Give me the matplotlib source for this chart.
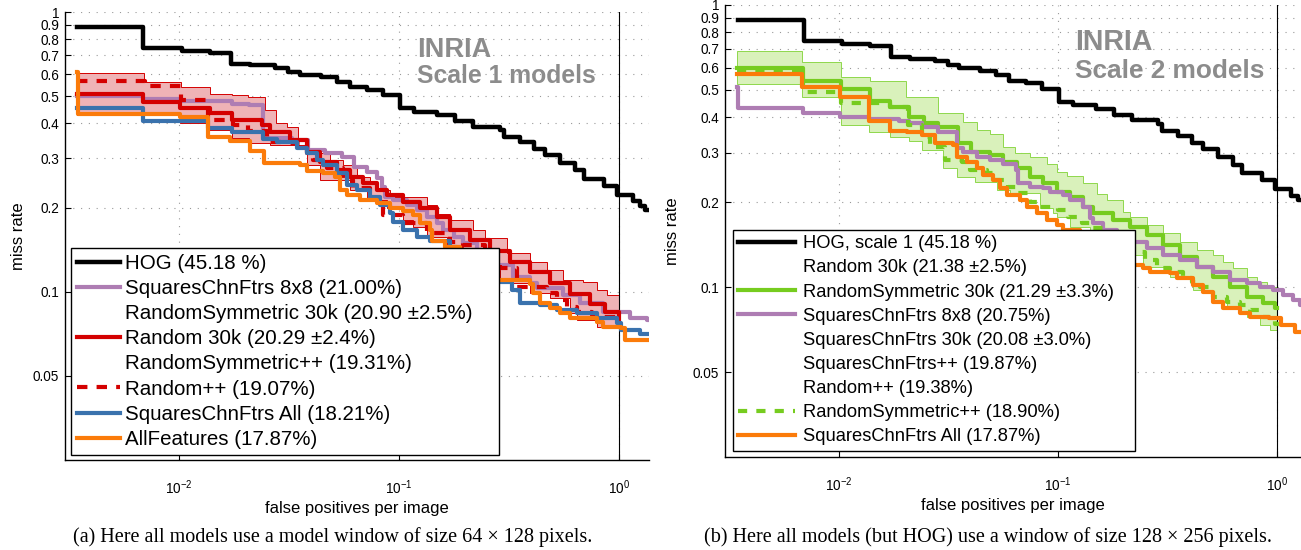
import numpy as np
import matplotlib
matplotlib.use("Agg")
import matplotlib.pyplot as plt
from matplotlib.lines import Line2D

plt.rcParams['font.family'] = ['Liberation Sans', 'DejaVu Sans']
plt.rcParams['mathtext.fontset'] = 'custom'
plt.rcParams['mathtext.rm'] = 'Liberation Sans'
plt.rcParams['mathtext.it'] = 'Liberation Sans:italic'

# ---- data: (false positives per image, miss rate), step curves ----
hog_fppi = [0.00345, 0.00692, 0.01035, 0.01387, 0.01726, 0.0211, 0.02735, 0.0313, 0.03548, 0.04426,
            0.05236, 0.05998, 0.0716, 0.0846, 0.1014, 0.1173, 0.1488, 0.1795, 0.2168, 0.2873, 0.2996,
            0.3541, 0.41, 0.46, 0.538, 0.629, 0.6916, 0.852, 0.9763, 1.154, 1.242, 1.308, 1.36]
hog_mr = [0.883, 0.745, 0.726, 0.714, 0.655, 0.645, 0.634, 0.613, 0.596, 0.584, 0.563, 0.540, 0.527,
          0.505, 0.453, 0.441, 0.429, 0.408, 0.390, 0.379, 0.358, 0.343, 0.325, 0.308, 0.289, 0.272,
          0.253, 0.239, 0.222, 0.211, 0.203, 0.196, 0.196]

# scale 1 models
s1_sq8_fppi = [0.00345, 0.00689, 0.01024, 0.01746, 0.02085, 0.02427, 0.0326, 0.0386, 0.0461, 0.055,
               0.0625, 0.0713, 0.0792, 0.0834, 0.0864, 0.0942, 0.1084, 0.1202, 0.1335, 0.1483, 0.1589,
               0.177, 0.196, 0.2253, 0.2777, 0.3303, 0.3935, 0.4218, 0.557, 0.663, 0.846, 1.118, 1.33, 1.36]
s1_sq8_mr = [0.501, 0.490, 0.481, 0.471, 0.4656, 0.356, 0.3487, 0.3212, 0.3126, 0.304, 0.280, 0.2686,
             0.2543, 0.2373, 0.2186, 0.2129, 0.2041, 0.1959, 0.1854, 0.1755, 0.1662, 0.157, 0.1489,
             0.139, 0.1245, 0.113, 0.1071, 0.1028, 0.0972, 0.0908, 0.0847, 0.0802, 0.0791, 0.0791]

s1_rnd_fppi = [0.00345, 0.00689, 0.01014, 0.0139, 0.01754, 0.024, 0.026, 0.032, 0.0381, 0.0438, 0.0521,
               0.0599, 0.0689, 0.0792, 0.0879, 0.1046, 0.1245, 0.1483, 0.1704, 0.210, 0.2588, 0.3186,
               0.3935, 0.4842, 0.597, 0.736, 0.861, 0.997, 1.0]
s1_rnd_mr = [0.5096, 0.476, 0.455, 0.4346, 0.4113, 0.3948, 0.3736, 0.3487, 0.3167, 0.2917, 0.2724,
             0.2577, 0.2441, 0.231, 0.2218, 0.2098, 0.1987, 0.1854, 0.1662, 0.153, 0.1397, 0.128,
             0.1175, 0.1073, 0.0985, 0.0903, 0.0845, 0.0791, 0.0791]

s1_rnd_hi_fppi = [0.00345, 0.00694, 0.01028, 0.01387, 0.01746, 0.02064, 0.02466, 0.02767, 0.0309, 0.0349,
                  0.0381, 0.0423, 0.0486, 0.0559, 0.0643, 0.0738, 0.0792, 0.0908, 0.1335, 0.1483, 0.1704,
                  0.2177, 0.2457, 0.3083, 0.3935, 0.468, 0.557, 0.6863, 0.7895, 0.877, 1.0]
s1_rnd_hi_mr = [0.6073, 0.5639, 0.5411, 0.5096, 0.5055, 0.497, 0.4467, 0.4004, 0.389, 0.3347, 0.3257,
                0.3126, 0.2958, 0.2838, 0.2577, 0.2473, 0.231, 0.2186, 0.2041, 0.1895, 0.1804, 0.1662,
                0.1551, 0.1371, 0.128, 0.1195, 0.110, 0.1085, 0.1013, 0.0972, 0.0972]
s1_rnd_lo_fppi = [0.00345, 0.01014, 0.01365, 0.01746, 0.0209, 0.026, 0.0381, 0.0438, 0.0599, 0.0713,
                  0.0879, 0.1046, 0.1161, 0.1335, 0.1646, 0.196, 0.233, 0.2873, 0.3935, 0.4842, 0.597,
                  0.641, 0.7895, 1.0]
s1_rnd_lo_mr = [0.4286, 0.4004, 0.3789, 0.3537, 0.3394, 0.3347, 0.2838, 0.2508, 0.231, 0.2129, 0.1987,
                0.1804, 0.1707, 0.1572, 0.1448, 0.1297, 0.1195, 0.1071, 0.0988, 0.0948, 0.0836, 0.0791,
                0.0749, 0.0749]

s1_rndpp_fppi = [0.00345, 0.00703, 0.01028, 0.01358, 0.01764, 0.02064, 0.0251, 0.0327, 0.0381, 0.0408,
                 0.047, 0.0559, 0.062, 0.0738, 0.0849, 0.1046, 0.1335, 0.1704, 0.196, 0.2457, 0.2873,
                 0.342, 0.468, 0.52, 0.577, 0.641, 0.7493, 0.846, 1.0]
s1_rndpp_mr = [0.567, 0.5456, 0.485, 0.4113, 0.3948, 0.3757, 0.3438, 0.3394, 0.3126, 0.2958, 0.2769,
               0.2508, 0.2344, 0.216, 0.188, 0.176, 0.1622, 0.1509, 0.1468, 0.1297, 0.1212, 0.1041,
               0.0986, 0.0933, 0.0883, 0.0847, 0.0825, 0.0813, 0.0813]

s1_sqall_fppi = [0.00345, 0.00689, 0.01365, 0.01746, 0.02414, 0.0279, 0.0343, 0.0381, 0.0423, 0.0453,
                 0.0521, 0.0579, 0.0643, 0.0738, 0.082, 0.0908, 0.0941, 0.1045, 0.1202, 0.138, 0.1704,
                 0.1828, 0.196, 0.2175, 0.233, 0.2777, 0.325, 0.354, 0.4365, 0.52, 0.641, 0.7895, 0.973,
                 1.018, 1.24, 1.36]
s1_sqall_mr = [0.455, 0.408, 0.386, 0.374, 0.3515, 0.344, 0.326, 0.3126, 0.2958, 0.2838, 0.2651, 0.2406,
               0.231, 0.2186, 0.2041, 0.1907, 0.1779, 0.1662, 0.1572, 0.152, 0.1448, 0.139, 0.1333,
               0.1262, 0.1195, 0.1085, 0.1014, 0.0908, 0.0896, 0.0859, 0.0836, 0.0802, 0.077, 0.0729,
               0.0704, 0.0704]

s1_all_fppi = [0.00345, 0.00349, 0.01014, 0.01365, 0.01718, 0.0211, 0.0245, 0.0356, 0.0382, 0.0451,
               0.0512, 0.0540, 0.0580, 0.0665, 0.0793, 0.0908, 0.104, 0.1153, 0.124, 0.138, 0.141,
               0.1614, 0.189, 0.210, 0.233, 0.238, 0.3935, 0.4058, 0.4365, 0.4842, 0.538, 0.597,
               0.7925, 0.8433, 1.018, 1.062, 1.36]
s1_all_mr = [0.611, 0.432, 0.423, 0.358, 0.346, 0.319, 0.289, 0.284, 0.270, 0.265, 0.258, 0.231, 0.222,
             0.213, 0.207, 0.199, 0.195, 0.188, 0.1755, 0.166, 0.152, 0.145, 0.141, 0.132, 0.119, 0.110,
             0.107, 0.0986, 0.0908, 0.0871, 0.0836, 0.0802, 0.0780, 0.0749, 0.0741, 0.0671, 0.0671]

# scale 2 models
s2_rsym_fppi = [0.00342, 0.00685, 0.01024, 0.0139, 0.01715, 0.0208, 0.02436, 0.0283, 0.0349, 0.0399,
                0.0489, 0.0563, 0.0648, 0.0745, 0.0857, 0.0986, 0.1134, 0.1305, 0.145, 0.1789, 0.2132,
                0.2541, 0.3027, 0.3606, 0.4298, 0.5118, 0.61, 0.727, 0.866, 0.979, 1.0]
s2_rsym_mr = [0.5966, 0.5378, 0.5027, 0.458, 0.4339, 0.4018, 0.3808, 0.3704, 0.3235, 0.302, 0.294,
              0.2785, 0.2638, 0.2463, 0.2334, 0.218, 0.2093, 0.1929, 0.1827, 0.173, 0.1627, 0.1531,
              0.1411, 0.1282, 0.1182, 0.1089, 0.1004, 0.0925, 0.0877, 0.0842, 0.0842]

s2_rsym_hi_fppi = [0.00342, 0.00678, 0.01016, 0.01392, 0.02012, 0.0283, 0.0369, 0.0425, 0.0489, 0.0563,
                   0.0637, 0.0745, 0.0888, 0.0986, 0.1095, 0.1305, 0.1502, 0.1669, 0.1987, 0.2132, 0.2541,
                   0.3027, 0.3606, 0.4298, 0.5118, 0.5686, 0.6316, 0.727, 0.8078, 0.8975, 1.0]
s2_rsym_hi_mr = [0.6887, 0.6281, 0.5556, 0.5357, 0.4702, 0.4133, 0.3834, 0.3606, 0.349, 0.3146, 0.2981,
                 0.29, 0.2732, 0.2559, 0.2477, 0.2339, 0.214, 0.2037, 0.1847, 0.1777, 0.1661, 0.1552,
                 0.1449, 0.1354, 0.13, 0.1231, 0.1167, 0.1089, 0.1046, 0.1004, 0.1004]
s2_rsym_lo_fppi = [0.00342, 0.00678, 0.01016, 0.01366, 0.0171, 0.0208, 0.02393, 0.02994, 0.0345, 0.0418,
                   0.0525, 0.0604, 0.0828, 0.0952, 0.0986, 0.1134, 0.14, 0.1789, 0.2452, 0.3246, 0.4148,
                   0.5118, 0.5891, 0.6776, 0.727, 0.8364, 0.929, 1.0]
s2_rsym_lo_mr = [0.5249, 0.4732, 0.3757, 0.3556, 0.3413, 0.3296, 0.3063, 0.2638, 0.2463, 0.2359, 0.2211,
                 0.2151, 0.1904, 0.1827, 0.1777, 0.1638, 0.1494, 0.13, 0.1182, 0.1089, 0.0977, 0.0888,
                 0.0853, 0.0808, 0.0786, 0.0735, 0.0705, 0.0705]

s2_sq8_fppi = [0.00342, 0.00346, 0.00685, 0.01014, 0.01366, 0.01874, 0.0208, 0.02393, 0.0283, 0.0346,
               0.0369, 0.0425, 0.0489, 0.0563, 0.0643, 0.0659, 0.0745, 0.0857, 0.0919, 0.1057, 0.1134,
               0.1305, 0.14, 0.145, 0.161, 0.1854, 0.2132, 0.2541, 0.3027, 0.3606, 0.4298, 0.5118, 0.61,
               0.727, 0.8364, 0.9618, 1.069, 1.187, 1.274, 1.29]
s2_sq8_mr = [0.5109, 0.4305, 0.4152, 0.3999, 0.3945, 0.389, 0.3827, 0.3704, 0.3556, 0.3105, 0.302, 0.29,
             0.2812, 0.2732, 0.2602, 0.2334, 0.2271, 0.2241, 0.218, 0.2122, 0.2037, 0.1929, 0.1759,
             0.1684, 0.1595, 0.151, 0.1449, 0.1373, 0.13, 0.1248, 0.1182, 0.1134, 0.106, 0.1032, 0.1004,
             0.0977, 0.0938, 0.0901, 0.0865, 0.0865]

s2_rsympp_fppi = [0.00342, 0.00685, 0.01024, 0.01715, 0.02065, 0.02385, 0.02603, 0.03048, 0.03633,
                  0.03963, 0.04724, 0.05157, 0.0593, 0.0648, 0.0745, 0.0828, 0.1003, 0.1114, 0.1283, 0.145,
                  0.1669, 0.1854, 0.2132, 0.2496, 0.2823, 0.3246, 0.3733, 0.4077, 0.4451, 0.5118, 0.5891,
                  0.6776, 0.7528, 0.866, 0.979, 1.15]
s2_rsympp_mr = [0.585, 0.4929, 0.4504, 0.4339, 0.3757, 0.3413, 0.3146, 0.2823, 0.2785, 0.2602, 0.2532,
                0.2398, 0.2271, 0.2151, 0.200, 0.1929, 0.1877, 0.1777, 0.1684, 0.1617, 0.1531, 0.1431,
                0.1336, 0.1248, 0.1167, 0.1134, 0.1075, 0.1046, 0.1004, 0.0925, 0.0888, 0.0865, 0.083,
                0.0786, 0.0741, 0.0741]

s2_sqall_fppi = [0.00342, 0.00678, 0.01014, 0.01366, 0.01715, 0.02044, 0.02393, 0.02744, 0.0333, 0.0345,
                 0.0383, 0.0425, 0.0456, 0.0507, 0.0544, 0.0583, 0.0671, 0.072, 0.0799, 0.0888, 0.0986,
                 0.1057, 0.126, 0.145, 0.1728, 0.1987, 0.2132, 0.2452, 0.263, 0.3246, 0.3483, 0.4148,
                 0.4607, 0.5118, 0.5686, 0.6776, 0.7528, 0.9194, 1.043, 1.208, 1.29]
s2_sqall_mr = [0.5694, 0.5101, 0.471, 0.389, 0.3585, 0.3556, 0.3462, 0.3236, 0.3191, 0.29, 0.2785,
               0.2638, 0.2498, 0.2398, 0.2241, 0.2122, 0.2037, 0.1929, 0.1827, 0.173, 0.1661, 0.1595,
               0.147, 0.1391, 0.13, 0.1248, 0.1199, 0.1167, 0.1134, 0.112, 0.1075, 0.1018, 0.0964,
               0.0888, 0.0842, 0.0808, 0.0786, 0.0776, 0.0735, 0.0694, 0.0694]

labels_s1 = ["HOG (45.18 %)", "SquaresChnFtrs 8x8 (21.00%)", "RandomSymmetric 30k (20.90 \u00b12.5%)",
             "Random 30k (20.29 \u00b12.4%)", "RandomSymmetric++ (19.31%)", "Random++ (19.07%)",
             "SquaresChnFtrs All (18.21%)", "AllFeatures (17.87%)"]
labels_s2 = ["HOG, scale 1 (45.18 %)", "Random 30k (21.38 \u00b12.5%)", "RandomSymmetric 30k (21.29 \u00b13.3%)",
             "SquaresChnFtrs 8x8 (20.75%)", "SquaresChnFtrs 30k (20.08 \u00b13.0%)", "SquaresChnFtrs++ (19.87%)",
             "Random++ (19.38%)", "RandomSymmetric++ (18.90%)", "SquaresChnFtrs All (17.87%)"]

yticks = [0.05, 0.1, 0.2, 0.3, 0.4, 0.5, 0.6, 0.7, 0.8, 0.9, 1]
ytick_labels = ['0.05', '0.1', '0.2', '0.3', '0.4', '0.5', '0.6', '0.7', '0.8', '0.9', '1']

black = 'black'
purple = '#ae7db3'
red = '#d40000'
blue = '#3a72ad'
orange = '#fb7b0a'
green = '#76cc1f'
gray = '#8c8c8c'


def stairs(x, y):
    xs, ys = [], []
    for i in range(len(x) - 1):
        xs += [x[i], x[i + 1]]
        ys += [y[i], y[i]]
    return xs, ys


def band(ax, hx, hy, lx, ly, fc, ec):
    ux, uy = stairs(hx, hy)
    bx, by = stairs(lx, ly)
    ax.fill(ux + bx[::-1], uy + by[::-1], facecolor=fc, edgecolor=ec, linewidth=0.7, zorder=2)


def setup(ax, xlim):
    ax.set_xscale('log')
    ax.set_yscale('log')
    ax.set_xlim(xlim)
    ax.set_ylim(0.025, 1)
    ax.set_yticks(yticks)
    ax.set_yticklabels(ytick_labels)
    ax.set_xticks([1e-2, 1e-1, 1])
    ax.minorticks_off()
    ax.spines['top'].set_visible(False)
    ax.spines['right'].set_visible(False)
    for s in ['left', 'bottom']:
        ax.spines[s].set_linewidth(1.0)
    ax.tick_params(direction='in', length=4, width=0.8, labelsize=9.8)
    ax.tick_params(axis='x', pad=13)
    ax.tick_params(axis='y', pad=4)
    ax.grid(True, which='major', color='#999999', linestyle=(0, (1, 6)), linewidth=0.8)
    ax.axvline(1, color='black', linewidth=0.8, zorder=3)
    ax.set_xlabel('false positives per image', fontsize=12, labelpad=3)
    ax.set_ylabel('miss rate', fontsize=12)


fig = plt.figure(figsize=(13.01, 5.5), dpi=100)

# ---- (a) scale 1 ----
ax1 = fig.add_axes([0.04973, 0.16364, 0.4491, 0.81418])
setup(ax1, (10 ** -2.517, 10 ** 0.135))
ax1.yaxis.set_label_coords(-0.066, 0.5)
band(ax1, s1_rnd_hi_fppi, s1_rnd_hi_mr, s1_rnd_lo_fppi, s1_rnd_lo_mr, '#efb3b6', red)
ax1.plot(s1_sq8_fppi, s1_sq8_mr, drawstyle='steps-post', color=purple, lw=3, zorder=4)
ax1.plot(s1_rnd_fppi, s1_rnd_mr, drawstyle='steps-post', color=red, lw=3, zorder=4)
ax1.plot(s1_rndpp_fppi, s1_rndpp_mr, drawstyle='steps-post', color=red, lw=3, linestyle=(0, (2.5, 2.2)), zorder=4)
ax1.plot(s1_sqall_fppi, s1_sqall_mr, drawstyle='steps-post', color=blue, lw=3, zorder=4)
ax1.plot(s1_all_fppi, s1_all_mr, drawstyle='steps-post', color=orange, lw=3, zorder=4)
ax1.plot(hog_fppi, hog_mr, drawstyle='steps-post', color=black, lw=3.2, zorder=5)
ax1.text(0.6035, 0.9006, 'INRIA', transform=ax1.transAxes, fontsize=19.5, fontweight='bold',
         color=gray, va='baseline', ha='left')
ax1.text(0.6035, 0.8412, 'Scale 1 models', transform=ax1.transAxes, fontsize=17.8, fontweight='bold',
         color=gray, va='baseline', ha='left')

blank = Line2D([], [], color='none')
h1 = [Line2D([], [], color=black, lw=3.2),
      Line2D([], [], color=purple, lw=3),
      blank,
      Line2D([], [], color=red, lw=3),
      blank,
      Line2D([], [], color=red, lw=3, linestyle=(0, (2.5, 2.2))),
      Line2D([], [], color=blue, lw=3),
      Line2D([], [], color=orange, lw=3)]
leg1 = ax1.legend(h1, labels_s1, loc='lower left', bbox_to_anchor=(0.0108, 0.011, 0.7325, 0.5),
                  mode='expand', borderaxespad=0,
                  fontsize=14.8, handlelength=2.1, handletextpad=0.25, labelspacing=0.30, borderpad=0.3,
                  fancybox=False, framealpha=1, edgecolor='black')
leg1.get_frame().set_linewidth(1.0)
leg1.set_zorder(10)

# ---- (b) scale 2 ----
ax2 = fig.add_axes([0.55703, 0.16909, 0.44297, 0.82182])
setup(ax2, (10 ** -2.522, 10 ** 0.1096))
ax2.yaxis.set_label_coords(-0.0776, 0.5)
band(ax2, s2_rsym_hi_fppi, s2_rsym_hi_mr, s2_rsym_lo_fppi, s2_rsym_lo_mr, '#d9f1bb', '#8fd84c')
ax2.plot(s2_rsym_fppi, s2_rsym_mr, drawstyle='steps-post', color=green, lw=3, zorder=4)
ax2.plot(s2_sq8_fppi, s2_sq8_mr, drawstyle='steps-post', color=purple, lw=3, zorder=4)
ax2.plot(s2_rsympp_fppi, s2_rsympp_mr, drawstyle='steps-post', color=green, lw=3, linestyle=(0, (2.2, 2.2)), zorder=4)
ax2.plot(s2_sqall_fppi, s2_sqall_mr, drawstyle='steps-post', color=orange, lw=3, zorder=4)
ax2.plot(hog_fppi, hog_mr, drawstyle='steps-post', color=black, lw=3.2, zorder=5)
ax2.text(0.6079, 0.9004, 'INRIA', transform=ax2.transAxes, fontsize=20.6, fontweight='bold',
         color=gray, va='baseline', ha='left')
ax2.text(0.6079, 0.8378, 'Scale 2 models', transform=ax2.transAxes, fontsize=18.9, fontweight='bold',
         color=gray, va='baseline', ha='left')

h2 = [Line2D([], [], color=black, lw=3.2),
      blank,
      Line2D([], [], color=green, lw=3),
      Line2D([], [], color=purple, lw=3),
      blank, blank, blank,
      Line2D([], [], color=green, lw=3, linestyle=(0, (2.2, 2.2))),
      Line2D([], [], color=orange, lw=3)]
leg2 = ax2.legend(h2, labels_s2, loc='lower left', bbox_to_anchor=(0.0144, 0.0133, 0.6967, 0.5),
                  mode='expand', borderaxespad=0,
                  fontsize=13.2, handlelength=3.1, handletextpad=0.4, labelspacing=0.39, borderpad=0.3,
                  fancybox=False, framealpha=1, edgecolor='black')
leg2.get_frame().set_linewidth(1.0)
leg2.set_zorder(10)

# captions
fig.text(0.256, 0.0151, '(a) Here all models use a model window of size 64 \u00d7 128 pixels.',
         family=['Liberation Serif', 'DejaVu Serif'], fontsize=14.5, ha='center', va='baseline')
fig.text(0.7592, 0.0151, '(b) Here all models (but HOG) use a window of size 128 \u00d7 256 pixels.',
         family=['Liberation Serif', 'DejaVu Serif'], fontsize=14.5, ha='center', va='baseline')

fig.savefig('out.png', dpi=100)
